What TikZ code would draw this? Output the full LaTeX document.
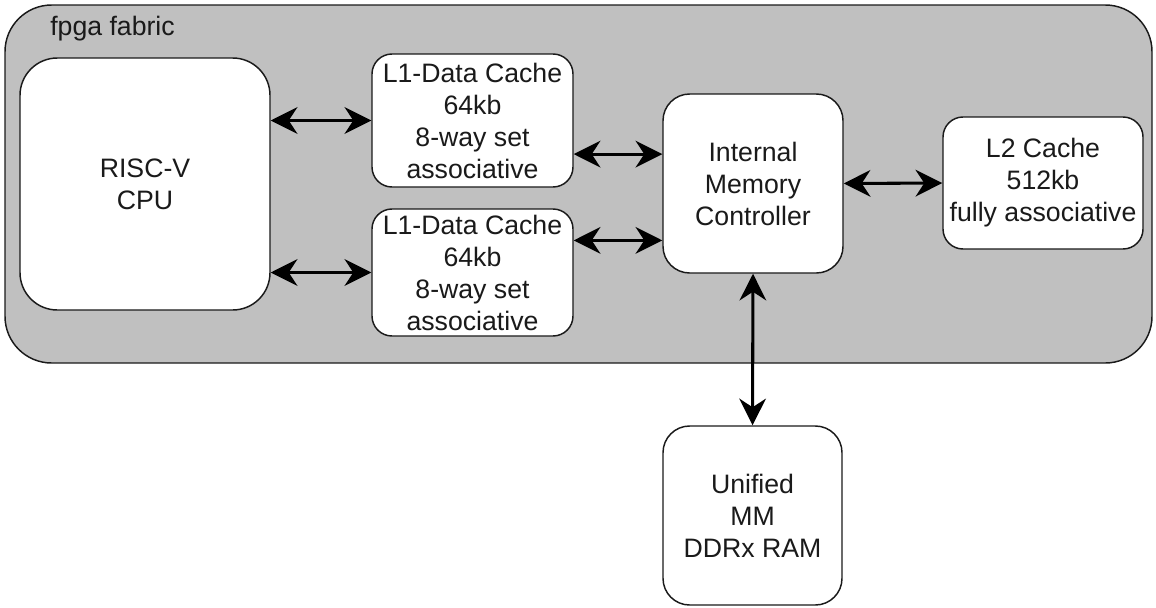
\documentclass[tikz,border=0pt]{standalone}
\usepackage{fontspec}
\setsansfont{Liberation Sans}
\usetikzlibrary{arrows.meta,calc}
\definecolor{fabric}{HTML}{C0C0C0}
\definecolor{ink}{HTML}{1A1A1A}

\begin{document}
\begin{tikzpicture}[
  x=0.75pt, y=-0.75pt,
  font=\sffamily\fontsize{20}{24}\selectfont,
  area/.style={draw=ink, line width=1.1pt, fill=fabric, rounded corners=35pt},
  block/.style={draw=ink, line width=1.1pt, fill=white, text=ink,
    align=center, inner sep=0pt},
  link/.style={{Stealth[length=20pt,width=20pt,inset=6.5pt]}-{Stealth[length=20pt,width=20pt,inset=6.5pt]},
    line width=2.3pt, draw=black}
]
\useasboundingbox (0,0) rectangle (1156,607);
\node[area, minimum width=860.25pt, minimum height=268.5pt] (fpga) at (578.5,184) {};
\node[anchor=base west, inner sep=0pt, text=ink] (title) at (50,35) {fpga fabric};
\node[block, rounded corners=28pt, minimum width=187.5pt, minimum height=189pt] (cpu) at (145,184) {RISC-V\\CPU};
\node[block, rounded corners=15pt, minimum width=150.75pt, minimum height=99.75pt] (l1a) at (472.5,120.5) {L1-Data Cache\\64kb\\8-way set\\associative};
\node[block, rounded corners=15pt, minimum width=150.75pt, minimum height=95.25pt] (l1b) at (472.5,272.5) {L1-Data Cache\\64kb\\8-way set\\associative};
\node[block, rounded corners=20pt, minimum width=135pt, minimum height=134.25pt] (imc) at (753,183.5) {Internal\\Memory\\Controller};
\node[block, rounded corners=15pt, minimum width=150pt, minimum height=99pt] (l2) at (1043,183) {L2 Cache\\512kb\\fully associative};
\node[block, rounded corners=20pt, minimum width=134.25pt, minimum height=134.25pt] (ram) at (752.5,515.5) {Unified\\MM\\DDRx RAM};
% links between the blocks
\coordinate (a1) at ($(l1a.south east)!.25!(l1a.north east)$);
\coordinate (a2) at ($(l1b.north east)!.25!(l1b.south east)$);
\draw[link] (cpu.east |- l1a.west) -- (l1a.west);
\draw[link] (cpu.east |- l1b.west) -- (l1b.west);
\draw[link] (a1) -- (a1 -| imc.west);
\draw[link] (a2) -- (a2 -| imc.west);
\draw[link] (imc.east) -- (l2.west);
\draw[link] (imc.south) -- (ram.north);
\end{tikzpicture}
\end{document}
